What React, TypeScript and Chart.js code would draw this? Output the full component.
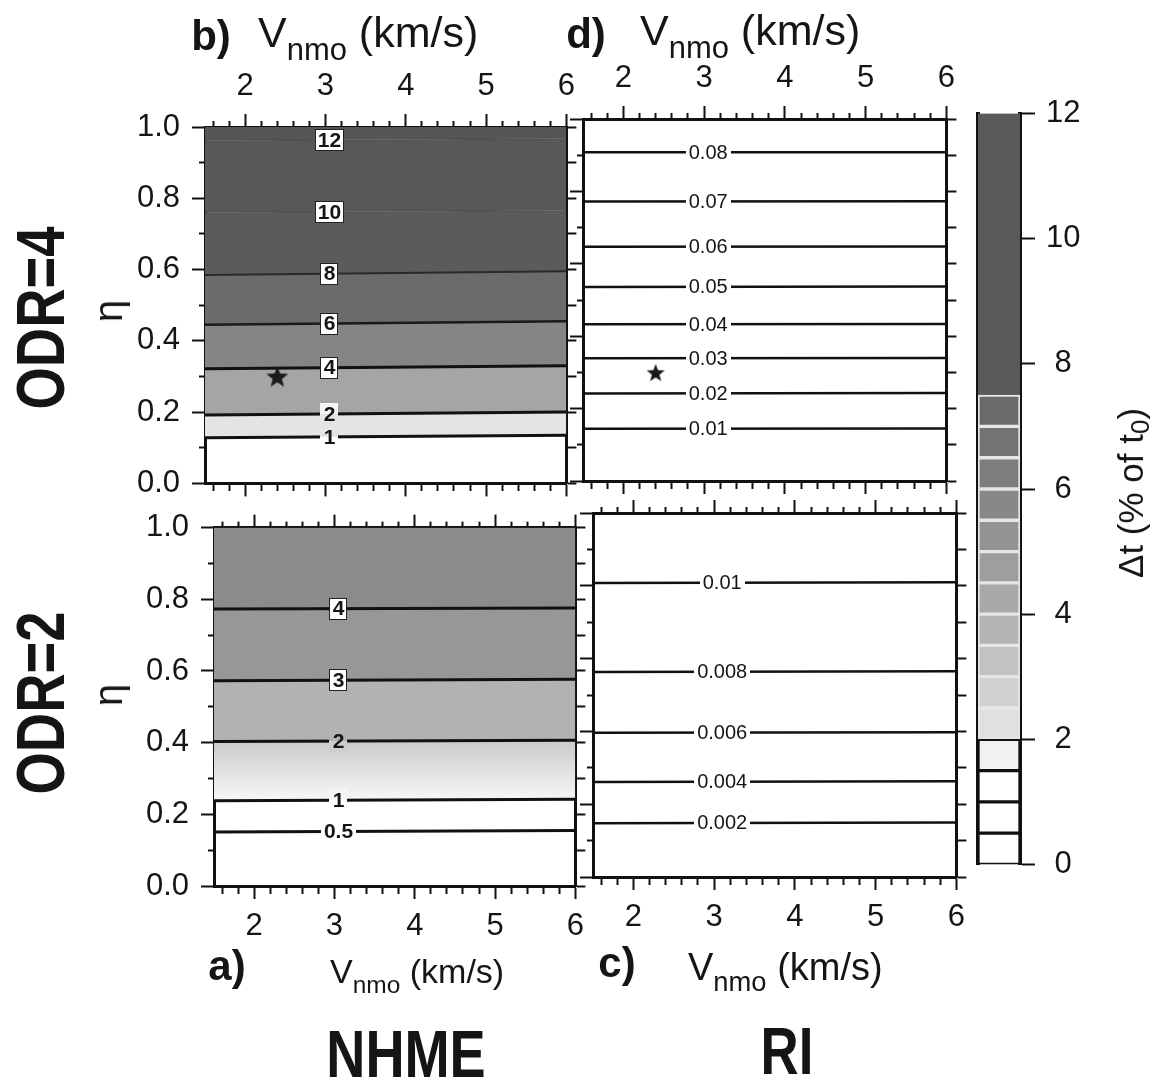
import React, { useEffect, useRef } from 'react';
import { Chart, registerables } from 'chart.js';

Chart.register(...registerables);

// ---------------- data ----------------
const vnmoMin = 1.5;
const vnmoMax = 6;
const vnmoEnds = [1.5, 6];
const vnmoTicks = [1.6, 1.8, 2, 2.2, 2.4, 2.6, 2.8, 3, 3.2, 3.4, 3.6, 3.8, 4, 4.2, 4.4, 4.6, 4.8, 5, 5.2, 5.4, 5.6, 5.8, 6];
const etaMin = 0;
const etaMax = 1;
const etaTicks = [0, 0.1, 0.2, 0.3, 0.4, 0.5, 0.6, 0.7, 0.8, 0.9, 1];

// true model (star)
const starVnmo = [2.4];
const starEta = [0.3];

// b) NHME, ODR=4 : contours of Δt (% of t0)
const bLevels = ['12', '10', '8', '6', '4', '2', '1'];
const bEtaAtVmin = [0.962, 0.76, 0.585, 0.445, 0.322, 0.192, 0.128];
const bEtaAtVmax = [0.968, 0.766, 0.595, 0.455, 0.33, 0.2, 0.135];
const bLabelVnmo = 3.05;

// a) NHME, ODR=2
const aLevels = ['4', '3', '2', '1', '0.5'];
const aEtaAtVmin = [0.773, 0.573, 0.403, 0.238, 0.151];
const aEtaAtVmax = [0.776, 0.577, 0.407, 0.242, 0.155];
const aLabelVnmo = 3.05;

// d) RI, ODR=4
const dLevels = ['0.08', '0.07', '0.06', '0.05', '0.04', '0.03', '0.02', '0.01'];
const dEtaAtVmin = [0.908, 0.772, 0.647, 0.536, 0.433, 0.339, 0.242, 0.144];
const dEtaAtVmax = [0.908, 0.773, 0.648, 0.537, 0.434, 0.34, 0.243, 0.145];
const dLabelVnmo = 3.05;

// c) RI, ODR=2
const cLevels = ['0.01', '0.008', '0.006', '0.004', '0.002'];
const cEtaAtVmin = [0.808, 0.563, 0.396, 0.261, 0.148];
const cEtaAtVmax = [0.81, 0.565, 0.398, 0.263, 0.15];
const cLabelVnmo = 3.1;

// colour bar
const cbEdges = [0, 0.5, 1, 1.5, 2, 2.5, 3, 3.5, 4, 4.5, 5, 5.5, 6, 6.5, 7, 7.5, 12];
const cbTicks = [0, 2, 4, 6, 8, 10, 12];

// ---------------- styles ----------------
const FONT = '"Liberation Sans", Arial, Helvetica, sans-serif';
const INK = '#151515';
const TL = 13; // major tick length
const TM = 6; // minor tick length

const cbColors = ['#ffffff', '#ffffff', '#ffffff', '#f1f1f1', '#e0e0e0', '#d0d0d0', '#c2c2c2', '#b5b5b5', '#a9a9a9', '#9e9e9e', '#939393', '#888888', '#7d7d7d', '#737373', '#6a6a6a', '#5a5a5a'];
const cbBorders = ['#111', '#111', '#111', '#111', '#e6e6e6', '#e6e6e6', '#e6e6e6', '#e6e6e6', '#e6e6e6', '#e6e6e6', '#e6e6e6', '#e6e6e6', '#e6e6e6', '#e6e6e6', '#e6e6e6', '#5a5a5a'];

type Grad = { from: string; to: string };
type PanelSpec = {
  key: string;
  L: number; T: number; R: number; B: number;
  labelsTop: boolean; labelsLeft: boolean;
  levels: string[]; etaVmin: number[]; etaVmax: number[]; labelV: number;
  bands: (string | Grad | null)[];
  lineColors: string[]; lineWidths: number[];
  boxed: boolean[]; bgAbove: string[]; bgBelow: string[];
  labelFont: string; labelH: number;
  star: boolean; starSize: number;
};

const panels: PanelSpec[] = [
  {
    key: 'b', L: 205, T: 127, R: 570, B: 490, labelsTop: true, labelsLeft: true,
    levels: bLevels, etaVmin: bEtaAtVmin, etaVmax: bEtaAtVmax, labelV: bLabelVnmo,
    bands: ['#565656', '#585858', '#5b5b5b', '#6b6b6b', '#858585', '#a5a5a5', '#e4e4e4'],
    lineColors: ['rgba(30,30,30,0.2)', 'rgba(30,30,30,0.2)', '#2a2a2a', '#1a1a1a', '#111', '#111', '#111'],
    lineWidths: [1.5, 1.5, 2, 2.5, 3, 3, 3],
    boxed: [true, true, true, true, true, false, false],
    bgAbove: ['#fff', '#fff', '#fff', '#fff', '#fff', '#f4f4f4', '#e4e4e4'],
    bgBelow: ['#fff', '#fff', '#fff', '#fff', '#fff', '#e4e4e4', '#ffffff'],
    labelFont: `bold 21px ${FONT}`, labelH: 22, star: true, starSize: 24,
  },
  {
    key: 'd', L: 583, T: 119, R: 950, B: 481, labelsTop: true, labelsLeft: false,
    levels: dLevels, etaVmin: dEtaAtVmin, etaVmax: dEtaAtVmax, labelV: dLabelVnmo,
    bands: dLevels.map(() => null),
    lineColors: dLevels.map(() => '#111'), lineWidths: dLevels.map(() => 2.5),
    boxed: dLevels.map(() => false), bgAbove: dLevels.map(() => '#fff'), bgBelow: dLevels.map(() => '#fff'),
    labelFont: `20px ${FONT}`, labelH: 20, star: true, starSize: 20,
  },
  {
    key: 'a', L: 214, T: 521, R: 579, B: 886, labelsTop: false, labelsLeft: true,
    levels: aLevels, etaVmin: aEtaAtVmin, etaVmax: aEtaAtVmax, labelV: aLabelVnmo,
    bands: ['#8b8b8b', '#979797', '#b2b2b2', { from: '#cbcbcb', to: '#f7f7f7' }, null],
    lineColors: aLevels.map(() => '#111'), lineWidths: aLevels.map(() => 3),
    boxed: [true, true, false, false, false],
    bgAbove: ['#fff', '#fff', '#b2b2b2', '#f5f5f5', '#fff'],
    bgBelow: ['#fff', '#fff', '#cdcdcd', '#ffffff', '#fff'],
    labelFont: `bold 21px ${FONT}`, labelH: 22, star: false, starSize: 0,
  },
  {
    key: 'c', L: 593, T: 513, R: 960, B: 877, labelsTop: false, labelsLeft: false,
    levels: cLevels, etaVmin: cEtaAtVmin, etaVmax: cEtaAtVmax, labelV: cLabelVnmo,
    bands: cLevels.map(() => null),
    lineColors: cLevels.map(() => '#111'), lineWidths: cLevels.map(() => 2.5),
    boxed: cLevels.map(() => false), bgAbove: cLevels.map(() => '#fff'), bgBelow: cLevels.map(() => '#fff'),
    labelFont: `20px ${FONT}`, labelH: 20, star: false, starSize: 0,
  },
];

// ---------------- helpers ----------------
const isMajorV = (v: number) => Math.abs(v - Math.round(v)) < 1e-6;
const isMajorEta = (v: number) => Math.abs(v * 5 - Math.round(v * 5)) < 1e-6;

function makeStar(size: number) {
  const c = document.createElement('canvas');
  c.width = size; c.height = size;
  const g = c.getContext('2d')!;
  const cx = size / 2, cy = size / 2 + 1, ro = size / 2 - 0.5, ri = ro * 0.42;
  g.beginPath();
  for (let i = 0; i < 10; i++) {
    const r = i % 2 === 0 ? ro : ri;
    const a = -Math.PI / 2 + (i * Math.PI) / 5;
    const x = cx + r * Math.cos(a), y = cy + r * Math.sin(a);
    if (i === 0) g.moveTo(x, y); else g.lineTo(x, y);
  }
  g.closePath();
  g.fillStyle = '#1a1a1a';
  g.fill();
  return c;
}

function tickDashOffset(farToNear: boolean, major: (v: number) => boolean, tl: number, tm: number) {
  return (c: any) => {
    if (!c || !c.tick) return 0;
    if (major(c.tick.value)) return 0;
    return farToNear ? tl : tl - tm;
  };
}

function xScale(position: 'top' | 'bottom', showLabels: boolean, size: number) {
  const farToNear = position === 'top';
  return {
    type: 'linear', position, min: vnmoMin, max: vnmoMax, z: 2,
    afterBuildTicks: (s: any) => { s.ticks = vnmoTicks.map((v) => ({ value: v })); },
    afterFit: (s: any) => { s.height = size; },
    ticks: {
      display: showLabels, autoSkip: false, maxRotation: 0, padding: 9, color: INK,
      font: { family: FONT, size: 31 },
      callback: (v: number) => (isMajorV(v) ? String(Math.round(v)) : ''),
    },
    grid: {
      drawOnChartArea: false, drawTicks: true, tickLength: TL, tickWidth: 2, tickColor: '#111',
      tickBorderDash: [TL, TL - TM],
      tickBorderDashOffset: tickDashOffset(farToNear, isMajorV, TL, TM),
    },
    border: { display: true, color: '#111', width: 3 },
  };
}

function yScale(position: 'left' | 'right', showLabels: boolean, size: number) {
  const farToNear = position === 'left';
  const tl = position === 'left' ? TL : 10;
  const tm = position === 'left' ? TM : 10;
  return {
    type: 'linear', position, min: etaMin, max: etaMax, z: 2,
    afterBuildTicks: (s: any) => { s.ticks = etaTicks.map((v) => ({ value: v })); },
    afterFit: (s: any) => { s.width = size; },
    ticks: {
      display: showLabels, autoSkip: false, padding: 12, color: INK,
      font: { family: FONT, size: 31 },
      callback: (v: number) => (isMajorEta(v) ? v.toFixed(1) : ''),
    },
    grid: {
      drawOnChartArea: false, drawTicks: true, tickLength: tl, tickWidth: 2, tickColor: '#111',
      tickBorderDash: [tl, Math.max(tl - tm, 0.01)],
      tickBorderDashOffset: tickDashOffset(farToNear, isMajorEta, tl, tm),
    },
    border: { display: true, color: '#111', width: 3 },
  };
}

const contourLabelPlugin = {
  id: 'contourLabels',
  afterDatasetsDraw(chart: any) {
    const { ctx } = chart;
    const xs = chart.scales.x, ys = chart.scales.y;
    chart.data.datasets.forEach((ds: any) => {
      if (!ds.labelText) return;
      const p0 = ds.data[0], p1 = ds.data[ds.data.length - 1];
      const t = (ds.labelV - p0.x) / (p1.x - p0.x);
      const eta = p0.y + t * (p1.y - p0.y);
      const px = xs.getPixelForValue(ds.labelV);
      const py = ys.getPixelForValue(eta);
      ctx.save();
      ctx.font = ds.labelFont;
      const w = Math.round(ctx.measureText(ds.labelText).width + 6);
      const h = ds.labelH;
      const x0 = Math.round(px - w / 2), y0 = Math.round(py - h / 2);
      if (ds.labelBoxed) {
        ctx.fillStyle = '#ffffff';
        ctx.fillRect(x0, y0, w, h);
        ctx.strokeStyle = '#222';
        ctx.lineWidth = 1;
        ctx.strokeRect(x0 + 0.5, y0 + 0.5, w - 1, h - 1);
      } else {
        ctx.fillStyle = ds.labelBgAbove;
        ctx.fillRect(x0, y0, w, h / 2);
        ctx.fillStyle = ds.labelBgBelow;
        ctx.fillRect(x0, y0 + h / 2, w, h / 2);
      }
      ctx.fillStyle = INK;
      ctx.textAlign = 'center';
      ctx.textBaseline = 'middle';
      ctx.fillText(ds.labelText, px, py + 1);
      ctx.restore();
    });
  },
};

// ---------------- components ----------------
function PanelChart({ spec }: { spec: PanelSpec }) {
  const ref = useRef<HTMLCanvasElement>(null);
  const topH = spec.labelsTop ? 70 : 24;
  const botH = spec.labelsTop ? 24 : 70;
  const leftW = spec.labelsLeft ? 110 : 14;
  const rightW = 14;
  const width = spec.R - spec.L + leftW + rightW;
  const height = spec.B - spec.T + topH + botH;

  useEffect(() => {
    if (!ref.current) return;
    const datasets: any[] = [];
    datasets.push({
      type: 'scatter',
      data: spec.star ? starVnmo.map((v, i) => ({ x: v, y: starEta[i] })) : [],
      pointStyle: spec.star ? makeStar(spec.starSize) : 'circle',
      pointRadius: spec.starSize / 2, showLine: false, fill: false,
    });
    datasets.push({
      data: vnmoEnds.map((v) => ({ x: v, y: etaMax })),
      borderWidth: 0, pointRadius: 0, fill: false, borderColor: 'rgba(0,0,0,0)',
    });
    spec.levels.forEach((lev, i) => {
      const band = spec.bands[i];
      let bg: any = 'rgba(0,0,0,0)';
      if (typeof band === 'string') bg = band;
      else if (band) {
        const g = band as Grad;
        bg = (c: any) => {
          const ch = c.chart;
          if (!ch.chartArea || !ch.scales || !ch.scales.y) return g.to;
          const yTop = ch.scales.y.getPixelForValue(spec.etaVmin[i - 1]);
          const yBot = ch.scales.y.getPixelForValue(spec.etaVmin[i]);
          const gr = ch.ctx.createLinearGradient(0, yTop, 0, yBot);
          gr.addColorStop(0, g.from);
          gr.addColorStop(1, g.to);
          return gr;
        };
      }
      datasets.push({
        data: vnmoEnds.map((v, k) => ({ x: v, y: k === 0 ? spec.etaVmin[i] : spec.etaVmax[i] })),
        borderColor: spec.lineColors[i], borderWidth: spec.lineWidths[i],
        pointRadius: 0, tension: 0,
        fill: band ? i + 1 : false,
        backgroundColor: bg,
        labelText: lev, labelV: spec.labelV, labelFont: spec.labelFont, labelH: spec.labelH,
        labelBoxed: spec.boxed[i], labelBgAbove: spec.bgAbove[i], labelBgBelow: spec.bgBelow[i],
      });
    });

    const chart = new Chart(ref.current, {
      type: 'line',
      data: { datasets },
      options: {
        responsive: false, animation: false, devicePixelRatio: 1,
        layout: { padding: 0 },
        plugins: { legend: { display: false }, tooltip: { enabled: false } },
        elements: { line: { borderCapStyle: 'butt' } },
        scales: {
          x: xScale(spec.labelsTop ? 'top' : 'bottom', true, spec.labelsTop ? topH : botH),
          x2: xScale(spec.labelsTop ? 'bottom' : 'top', false, spec.labelsTop ? botH : topH),
          y: yScale('left', spec.labelsLeft, leftW),
          y2: yScale('right', false, rightW),
        },
      } as any,
      plugins: [contourLabelPlugin],
    } as any);
    return () => chart.destroy();
  }, []);

  return (
    <canvas
      ref={ref}
      width={width}
      height={height}
      style={{ position: 'absolute', left: spec.L - leftW, top: spec.T - topH, width, height }}
    />
  );
}

function ColorbarChart() {
  const ref = useRef<HTMLCanvasElement>(null);
  const L = 978, R = 1020, T = 108, B = 870;
  const leftW = 4, rightW = 110, pad = 24;
  const width = R - L + leftW + rightW;
  const height = B - T + pad * 2;
  useEffect(() => {
    if (!ref.current) return;
    const datasets = cbColors.map((col, i) => ({
      data: [[cbEdges[i], cbEdges[i + 1]]],
      backgroundColor: col,
      borderColor: cbBorders[i],
      borderWidth: i === cbColors.length - 1 ? 0 : 2,
      borderSkipped: false,
      grouped: false,
      barPercentage: 1,
      categoryPercentage: 1,
    }));
    const chart = new Chart(ref.current, {
      type: 'bar',
      data: { labels: ['Δt'], datasets },
      options: {
        responsive: false, animation: false, devicePixelRatio: 1,
        layout: { padding: { top: pad, bottom: pad, left: 0, right: 0 } },
        plugins: { legend: { display: false }, tooltip: { enabled: false } },
        scales: {
          x: { display: false },
          y: {
            type: 'linear', position: 'left', min: 0, max: 12, z: 2,
            afterFit: (s: any) => { s.width = leftW; },
            ticks: { display: false },
            grid: { display: false },
            border: { display: true, color: '#111', width: 4 },
          },
          y2: {
            type: 'linear', position: 'right', min: 0, max: 12, z: 2,
            afterBuildTicks: (s: any) => { s.ticks = cbTicks.map((v) => ({ value: v })); },
            afterFit: (s: any) => { s.width = rightW; },
            ticks: {
              display: true, padding: 11, color: INK, crossAlign: 'center',
              font: { family: FONT, size: 31 },
              callback: (v: number) => String(v),
            },
            grid: { drawOnChartArea: false, drawTicks: true, tickLength: 15, tickWidth: 2, tickColor: '#111' },
            border: { display: true, color: '#111', width: 4 },
          },
        },
      } as any,
    } as any);
    return () => chart.destroy();
  }, []);
  return (
    <canvas
      ref={ref}
      width={width}
      height={height}
      style={{ position: 'absolute', left: L - leftW, top: T - pad, width, height }}
    />
  );
}

function Txt({ x, y, size, bold, children, rotate, sx }: any) {
  return (
    <div
      style={{
        position: 'absolute', left: x, top: y, fontSize: size, fontWeight: bold ? 'bold' : 'normal',
        lineHeight: 1, whiteSpace: 'nowrap', color: INK,
        transform: `translate(-50%, -50%)${rotate ? ` rotate(${rotate}deg)` : ''}${sx ? ` scaleX(${sx})` : ''}`,
      }}
    >
      {children}
    </div>
  );
}

function VTitle({ x, baseline, size }: { x: number; baseline: number; size: number }) {
  return (
    <div
      style={{
        position: 'absolute', left: x, top: baseline - 0.8465 * size, fontSize: size, lineHeight: 1,
        whiteSpace: 'nowrap', color: INK,
      }}
    >
      V<span style={{ fontSize: size * 0.72, verticalAlign: -size * 0.3 }}>nmo</span> (km/s)
    </div>
  );
}

export default function App() {
  return (
    <div
      style={{
        position: 'absolute', left: 0, top: 0, width: 1150, height: 1082, background: '#fff',
        fontFamily: FONT, overflow: 'hidden',
      }}
    >
      {panels.map((p) => (
        <PanelChart key={p.key} spec={p} />
      ))}
      <ColorbarChart />

      <Txt x={211} y={36} size={42} bold>b)</Txt>
      <VTitle x={258} baseline={47} size={43} />
      <Txt x={586} y={34} size={42} bold>d)</Txt>
      <VTitle x={640} baseline={45} size={43} />

      <Txt x={227} y={966} size={42} bold>a)</Txt>
      <VTitle x={330} baseline={983} size={34} />
      <Txt x={617} y={963} size={42} bold>c)</Txt>
      <VTitle x={688} baseline={980} size={38} />

      <Txt x={40} y={318} size={68} bold rotate={-90} sx={0.8}>ODR=4</Txt>
      <Txt x={40} y={703} size={68} bold rotate={-90} sx={0.8}>ODR=2</Txt>
      <Txt x={108} y={311} size={40} rotate={-90}>η</Txt>
      <Txt x={108} y={695} size={40} rotate={-90}>η</Txt>

      <Txt x={406} y={1054} size={66} bold sx={0.82}>NHME</Txt>
      <Txt x={787} y={1051} size={66} bold sx={0.8}>RI</Txt>

      <Txt x={1133} y={493} size={35} rotate={-90}>
        Δt (% of t<span style={{ fontSize: 26, verticalAlign: -6 }}>0</span>)
      </Txt>
    </div>
  );
}
